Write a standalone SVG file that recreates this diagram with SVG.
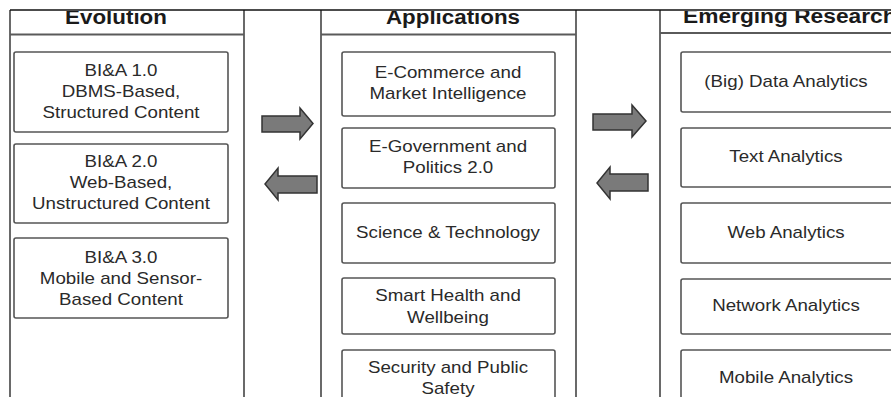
<svg xmlns="http://www.w3.org/2000/svg" width="891" height="397" viewBox="0 0 891 397">
<style>
.panel{fill:none;stroke:#5a5a5a;stroke-width:1.8}
.top{fill:none;stroke:#111;stroke-width:1.5}
.box{fill:#fff;stroke:#555;stroke-width:1.6}
.t{font-family:"Liberation Sans",Arial,sans-serif;font-size:16px;fill:#2a2a2a;text-anchor:middle}
.h{font-family:"Liberation Sans",Arial,sans-serif;font-size:20.5px;font-weight:bold;fill:#1a1a1a;text-anchor:middle}
.arrow{fill:#7a7a7a;stroke:#333;stroke-width:1.5;stroke-linejoin:miter}
</style>
<defs>
<clipPath id="below"><rect x="0" y="11" width="891" height="386"/></clipPath>
</defs>
<rect width="891" height="397" fill="#fff"/>

<g id="evolution-panel">
<path class="panel" d="M10 10 V397 M244 10 V397 M10 34.5 H244"/>
<g clip-path="url(#below)"><text class="h" transform="translate(116 0) scale(1.09 1)" x="0" y="24.5">Evolution</text></g>
</g>
<g id="applications-panel">
<path class="panel" d="M321 10 V397 M576 10 V397 M321 34.5 H576"/>
<g clip-path="url(#below)"><text class="h" transform="translate(453 0) scale(1.09 1)" x="0" y="24.5">Applications</text></g>
</g>
<g id="research-panel">
<path class="panel" d="M660 10 V397 M660 33 H891"/>
<g clip-path="url(#below)"><text class="h" style="text-anchor:start" transform="translate(683 0) scale(1.11 1)" x="0" y="23.5">Emerging Research</text></g>
</g>
<path class="top" d="M10 10 H891"/>

<g id="bia1">
<rect class="box" x="14" y="52" width="214" height="80" rx="2"/>
<text class="t" transform="translate(121 0) scale(1.17 1)" x="0" y="76">BI&amp;A 1.0</text>
<text class="t" transform="translate(121 0) scale(1.17 1)" x="0" y="97">DBMS-Based,</text>
<text class="t" transform="translate(121 0) scale(1.17 1)" x="0" y="118">Structured Content</text>
</g>
<g id="bia2">
<rect class="box" x="14" y="144" width="214" height="79" rx="2"/>
<text class="t" transform="translate(121 0) scale(1.17 1)" x="0" y="167">BI&amp;A 2.0</text>
<text class="t" transform="translate(121 0) scale(1.17 1)" x="0" y="188">Web-Based,</text>
<text class="t" transform="translate(121 0) scale(1.17 1)" x="0" y="209">Unstructured Content</text>
</g>
<g id="bia3">
<rect class="box" x="14" y="238" width="214" height="80" rx="2"/>
<text class="t" transform="translate(121 0) scale(1.17 1)" x="0" y="263">BI&amp;A 3.0</text>
<text class="t" transform="translate(121 0) scale(1.17 1)" x="0" y="284">Mobile and Sensor-</text>
<text class="t" transform="translate(121 0) scale(1.17 1)" x="0" y="305">Based Content</text>
</g>

<g id="ecommerce">
<rect class="box" x="342" y="52" width="213" height="64" rx="2"/>
<text class="t" transform="translate(448 0) scale(1.17 1)" x="0" y="78">E-Commerce and</text>
<text class="t" transform="translate(448 0) scale(1.17 1)" x="0" y="99">Market Intelligence</text>
</g>
<g id="egov">
<rect class="box" x="342" y="128" width="213" height="60" rx="2"/>
<text class="t" transform="translate(448 0) scale(1.17 1)" x="0" y="152">E-Government and</text>
<text class="t" transform="translate(448 0) scale(1.17 1)" x="0" y="173">Politics 2.0</text>
</g>
<g id="science">
<rect class="box" x="342" y="203" width="213" height="60" rx="2"/>
<text class="t" transform="translate(448 0) scale(1.17 1)" x="0" y="238">Science &amp; Technology</text>
</g>
<g id="health">
<rect class="box" x="342" y="278" width="213" height="56" rx="2"/>
<text class="t" transform="translate(448 0) scale(1.17 1)" x="0" y="301">Smart Health and</text>
<text class="t" transform="translate(448 0) scale(1.17 1)" x="0" y="323">Wellbeing</text>
</g>
<g id="security">
<rect class="box" x="342" y="350" width="213" height="60" rx="2"/>
<text class="t" transform="translate(448 0) scale(1.17 1)" x="0" y="373">Security and Public</text>
<text class="t" transform="translate(448 0) scale(1.17 1)" x="0" y="394">Safety</text>
</g>

<g id="bigdata">
<rect class="box" x="681" y="52" width="230" height="60" rx="2"/>
<text class="t" transform="translate(786 0) scale(1.17 1)" x="0" y="87">(Big) Data Analytics</text>
</g>
<g id="text">
<rect class="box" x="681" y="128" width="230" height="59" rx="2"/>
<text class="t" transform="translate(786 0) scale(1.17 1)" x="0" y="162">Text Analytics</text>
</g>
<g id="web">
<rect class="box" x="681" y="203" width="230" height="60" rx="2"/>
<text class="t" transform="translate(786 0) scale(1.17 1)" x="0" y="238">Web Analytics</text>
</g>
<g id="network">
<rect class="box" x="681" y="279" width="230" height="55" rx="2"/>
<text class="t" transform="translate(786 0) scale(1.17 1)" x="0" y="311">Network Analytics</text>
</g>
<g id="mobile">
<rect class="box" x="681" y="350" width="230" height="60" rx="2"/>
<text class="t" transform="translate(786 0) scale(1.17 1)" x="0" y="383">Mobile Analytics</text>
</g>

<g id="connectors">
<path class="arrow" d="M262 116 H300 V108 L313 123.5 L300 139 V132 H262 Z"/>
<path class="arrow" d="M317 176 H278 V168 L265 184 L278 200 V193 H317 Z"/>
<path class="arrow" d="M593 114 H632 V105 L646 121 L632 137 V130 H593 Z"/>
<path class="arrow" d="M648 174 H610 V167 L597 183 L610 199 V191 H648 Z"/>
</g>
</svg>
